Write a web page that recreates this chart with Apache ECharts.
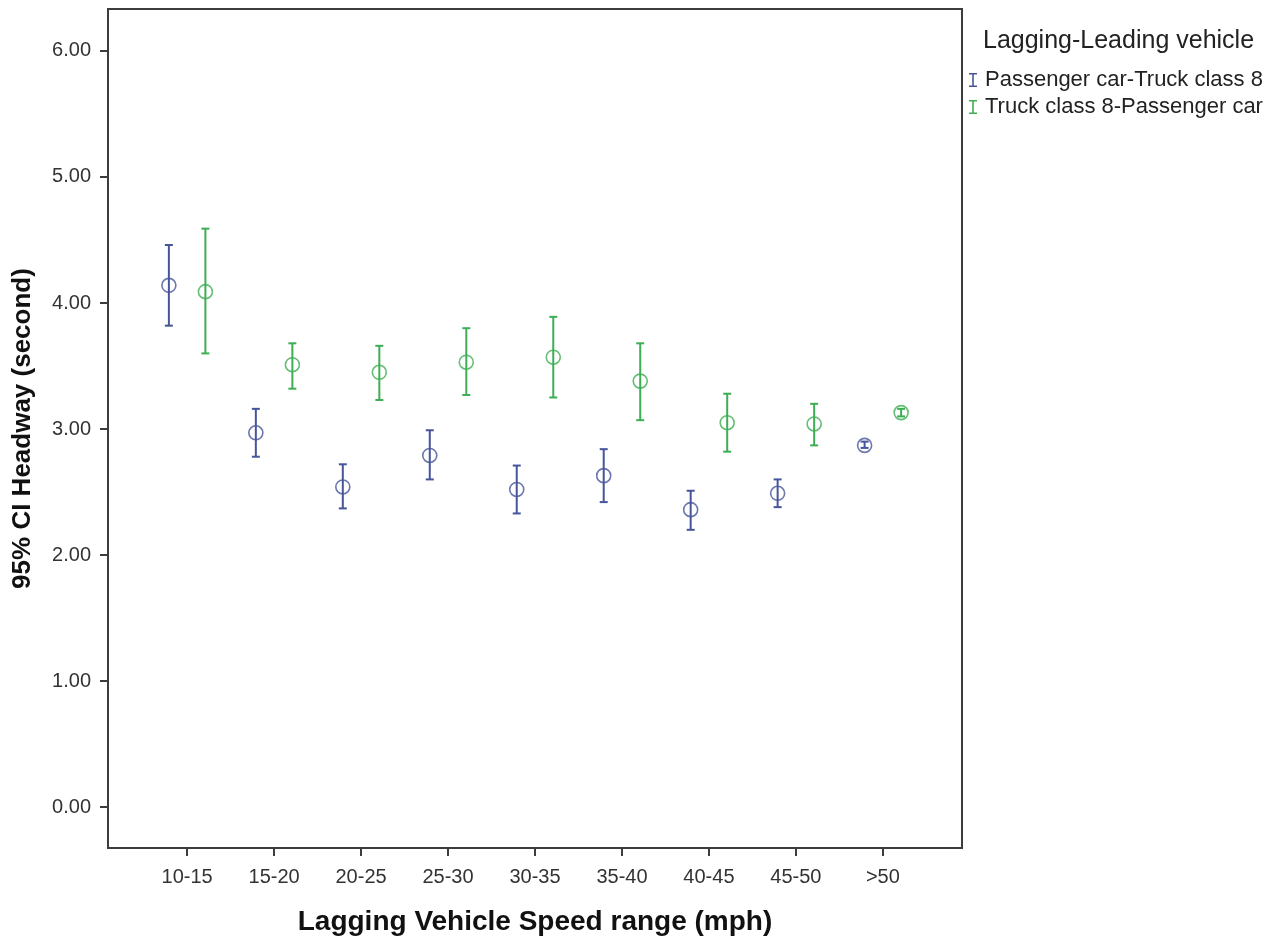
<!DOCTYPE html>
<html>
<head>
<meta charset="utf-8">
<title>95% CI Headway</title>
<script src="https://cdn.jsdelivr.net/npm/echarts@6.0.0/dist/echarts.min.js"></script>
<style>
  html, body { margin: 0; padding: 0; background: #fff; }
  #chart { width: 1273px; height: 942px; }
</style>
</head>
<body>
<div id="chart"></div>
<script>
// categories (x axis)
const categories = ['10-15', '15-20', '20-25', '25-30', '30-35', '35-40', '40-45', '45-50', '>50'];
const yTicks = [0, 1, 2, 3, 4, 5, 6];

// Passenger car-Truck class 8 : mean and 95% CI
const pcMean = [4.14, 2.97, 2.54, 2.79, 2.52, 2.63, 2.36, 2.49, 2.87];
const pcLow  = [3.82, 2.78, 2.37, 2.60, 2.33, 2.42, 2.20, 2.38, 2.85];
const pcHigh = [4.46, 3.16, 2.72, 2.99, 2.71, 2.84, 2.51, 2.60, 2.90];

// Truck class 8-Passenger car : mean and 95% CI
const tcMean = [4.09, 3.51, 3.45, 3.53, 3.57, 3.38, 3.05, 3.04, 3.13];
const tcLow  = [3.60, 3.32, 3.23, 3.27, 3.25, 3.07, 2.82, 2.87, 3.10];
const tcHigh = [4.59, 3.68, 3.66, 3.80, 3.89, 3.68, 3.28, 3.20, 3.16];

const BLUE = '#46559a';
const GREEN = '#3dae53';
const OFFSET = 0.21; // dodge of the two groups within a category

const barIcon = 'path://M0,0 L8,0 L8,1.6 L4.8,1.6 L4.8,12.4 L8,12.4 L8,14 L0,14 L0,12.4 L3.2,12.4 L3.2,1.6 L0,1.6 Z';

function errorBarItem(params, api) {
  const x = api.value(0);
  const top = api.coord([x, api.value(2)]);
  const bot = api.coord([x, api.value(1)]);
  const half = 4;
  const style = { stroke: api.visual('color'), lineWidth: 2 };
  return {
    type: 'group',
    children: [
      { type: 'line', shape: { x1: top[0], y1: top[1], x2: bot[0], y2: bot[1] }, style },
      { type: 'line', shape: { x1: top[0] - half, y1: top[1], x2: top[0] + half, y2: top[1] }, style },
      { type: 'line', shape: { x1: bot[0] - half, y1: bot[1], x2: bot[0] + half, y2: bot[1] }, style }
    ]
  };
}

function makeSeries(name, color, shift, mean, low, high) {
  return [
    {
      name,
      type: 'custom',
      renderItem: errorBarItem,
      itemStyle: { color },
      encode: { x: 0, y: [1, 2] },
      data: categories.map((c, i) => [i + shift, low[i], high[i]]),
      z: 2
    },
    {
      name,
      type: 'scatter',
      symbol: 'circle',
      symbolSize: 14,
      itemStyle: { color: 'transparent', borderColor: color, borderWidth: 1.6 },
      data: categories.map((c, i) => [i + shift, mean[i]]),
      z: 3
    }
  ];
}

const chart = echarts.init(document.getElementById('chart'));

const option = {
  backgroundColor: '#fff',
  animation: false,
  title: {
    text: 'Lagging-Leading vehicle',
    left: 978,
    top: 24,
    textStyle: { fontFamily: 'Liberation Sans', fontSize: 25, fontWeight: 'normal', color: '#222' }
  },
  legend: {
    orient: 'vertical',
    left: 964,
    top: 64,
    itemWidth: 8,
    itemHeight: 14,
    itemGap: 5,
    icon: barIcon,
    data: ['Passenger car-Truck class 8', 'Truck class 8-Passenger car'],
    textStyle: { fontFamily: 'Liberation Sans', fontSize: 22, color: '#222', padding: [0, 0, 0, 3] }
  },
  grid: {
    left: 108,
    right: 311,
    top: 9,
    bottom: 94,
    show: true,
    borderColor: '#3c3c3c',
    borderWidth: 2,
    containLabel: false
  },
  xAxis: {
    type: 'value',
    min: -0.91,
    max: 8.91,
    name: 'Lagging Vehicle Speed range (mph)',
    nameLocation: 'middle',
    nameGap: 60,
    nameTextStyle: { fontFamily: 'Liberation Sans', fontSize: 28, fontWeight: 'bold', color: '#111' },
    axisLine: { show: true, onZero: false, lineStyle: { color: '#3c3c3c', width: 2 } },
    axisTick: { show: true, length: 8, lineStyle: { color: '#3c3c3c', width: 2 }, customValues: categories.map((c, i) => i) },
    axisLabel: {
      customValues: categories.map((c, i) => i),
      formatter: v => categories[Math.round(v)],
      margin: 19,
      fontFamily: 'Liberation Sans',
      fontSize: 20,
      color: '#333'
    },
    splitLine: { show: false }
  },
  yAxis: {
    type: 'value',
    min: -0.325,
    max: 6.333,
    name: '95% CI Headway (second)',
    nameLocation: 'middle',
    nameGap: 72,
    nameTextStyle: { fontFamily: 'Liberation Sans', fontSize: 26, fontWeight: 'bold', color: '#111' },
    axisLine: { show: true, onZero: false, lineStyle: { color: '#3c3c3c', width: 2 } },
    axisTick: { show: true, length: 8, lineStyle: { color: '#3c3c3c', width: 2 }, customValues: yTicks },
    axisLabel: {
      customValues: yTicks,
      formatter: v => v.toFixed(2),
      margin: 17,
      fontFamily: 'Liberation Sans',
      fontSize: 20,
      color: '#333'
    },
    splitLine: { show: false }
  },
  series: [
    ...makeSeries('Passenger car-Truck class 8', BLUE, -OFFSET, pcMean, pcLow, pcHigh),
    ...makeSeries('Truck class 8-Passenger car', GREEN, OFFSET, tcMean, tcLow, tcHigh)
  ]
};

chart.setOption(option);
</script>
</body>
</html>
